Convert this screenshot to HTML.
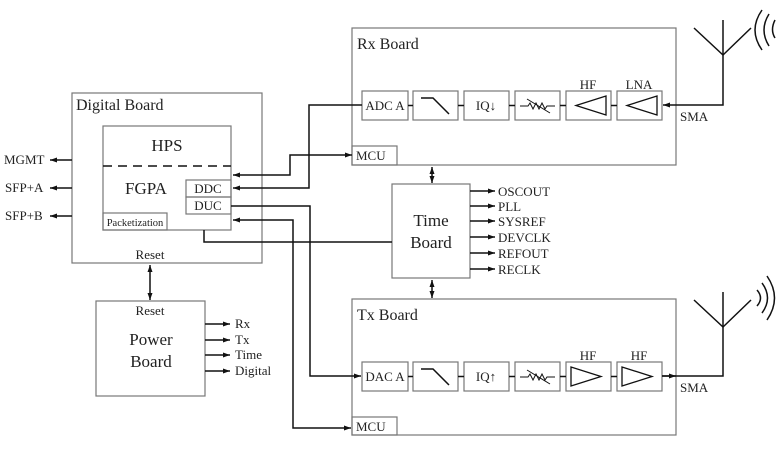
<!DOCTYPE html>
<html><head><style>
html,body{margin:0;padding:0;background:#fff}
svg{display:block}
text{font-family:"Liberation Serif",serif;fill:#222}
</style></head><body>
<svg width="782" height="454" viewBox="0 0 782 454" xmlns="http://www.w3.org/2000/svg">
<defs>
<marker id="a" markerWidth="8" markerHeight="6" refX="7" refY="3" orient="auto" markerUnits="userSpaceOnUse"><path d="M0,0.5 L7,3 L0,5.5z" fill="#111"/></marker>
<marker id="s" markerWidth="8" markerHeight="6" refX="1" refY="3" orient="auto" markerUnits="userSpaceOnUse"><path d="M8,0.5 L1,3 L8,5.5z" fill="#111"/></marker>
</defs>
<g fill="none" stroke="#777" stroke-width="1.2">
<rect x="72" y="93" width="190" height="170"/>
<rect x="103" y="126" width="128" height="104"/>
<rect x="186" y="180" width="45" height="17"/>
<rect x="186" y="197" width="45" height="17"/>
<rect x="103" y="213" width="64" height="17"/>
<rect x="352" y="28" width="324" height="137"/>
<rect x="352" y="146" width="45" height="19"/>
<rect x="352" y="299" width="324" height="136"/>
<rect x="352" y="417" width="45" height="18"/>
<rect x="392" y="184" width="78" height="94"/>
<rect x="96" y="301" width="109" height="95"/>
<rect x="362" y="91" width="46" height="29"/><rect x="413" y="91" width="45" height="29"/><rect x="464" y="91" width="45" height="29"/><rect x="515" y="91" width="45" height="29"/><rect x="566" y="91" width="45" height="29"/><rect x="617" y="91" width="45" height="29"/>
<rect x="362" y="362" width="46" height="29"/><rect x="413" y="362" width="45" height="29"/><rect x="464" y="362" width="45" height="29"/><rect x="515" y="362" width="45" height="29"/><rect x="566" y="362" width="45" height="29"/><rect x="617" y="362" width="45" height="29"/>
</g>
<g stroke="#111" stroke-width="1.5" fill="none">
<line x1="103" y1="166" x2="231" y2="166" stroke-dasharray="9,6"/>
<path d="M408,105.5h5M458,105.5h6M509,105.5h6M560,105.5h6M611,105.5h6"/>
<path d="M408,376.5h5M458,376.5h6M509,376.5h6M560,376.5h6M611,376.5h6"/>
<path d="M421,98h12l16,16"/><path d="M421,369h12l16,16"/>
<path d="M606,96v19l-30,-9.5z" stroke-width="1.3"/><path d="M657,96v19l-30,-9.5z" stroke-width="1.3"/>
<path d="M571,367v19l30,-9.5z" stroke-width="1.3"/><path d="M622,367v19l30,-9.5z" stroke-width="1.3"/>
<path d="M520,106h8l2,-3 3,6 3,-6 3,6 3,-6 3,6 2,-3h8M527,99l23,14" stroke-width="1"/>
<path d="M520,377h8l2,-3 3,6 3,-6 3,6 3,-6 3,6 2,-3h8M527,370l23,14" stroke-width="1"/>
<line x1="72" y1="160" x2="50" y2="160" marker-end="url(#a)"/>
<line x1="72" y1="188" x2="50" y2="188" marker-end="url(#a)"/>
<line x1="72" y1="216" x2="50" y2="216" marker-end="url(#a)"/>
<path d="M352,155H290V175H233" marker-start="url(#s)" marker-end="url(#a)"/>
<path d="M362,105H309V188H233" marker-end="url(#a)"/>
<path d="M231,206H310V376H361" marker-end="url(#a)"/>
<path d="M351,428H293V220H233" marker-start="url(#s)" marker-end="url(#a)"/>
<path d="M204,230V242H392"/>
<line x1="432" y1="167" x2="432" y2="183" marker-start="url(#s)" marker-end="url(#a)"/>
<line x1="432" y1="280" x2="432" y2="298" marker-start="url(#s)" marker-end="url(#a)"/>
<line x1="150" y1="265" x2="150" y2="300" marker-start="url(#s)" marker-end="url(#a)"/>
<line x1="470" y1="191" x2="495" y2="191" marker-end="url(#a)"/>
<line x1="470" y1="206" x2="495" y2="206" marker-end="url(#a)"/>
<line x1="470" y1="221" x2="495" y2="221" marker-end="url(#a)"/>
<line x1="470" y1="237" x2="495" y2="237" marker-end="url(#a)"/>
<line x1="470" y1="253" x2="495" y2="253" marker-end="url(#a)"/>
<line x1="470" y1="269" x2="495" y2="269" marker-end="url(#a)"/>
<line x1="205" y1="324" x2="230" y2="324" marker-end="url(#a)"/>
<line x1="205" y1="340" x2="230" y2="340" marker-end="url(#a)"/>
<line x1="205" y1="355" x2="230" y2="355" marker-end="url(#a)"/>
<line x1="205" y1="371" x2="230" y2="371" marker-end="url(#a)"/>
<path d="M723,20V105H663" marker-end="url(#a)"/>
<path d="M694,28L723,55L751,28"/>
<path d="M762,10Q748,30 762,50M769,14Q759,30 769,46M775,20Q770,30 775,38"/>
<path d="M662,376H723V292"/>
<line x1="662" y1="376" x2="676" y2="376" marker-end="url(#a)"/>
<path d="M694,300L723,327L751,300"/>
<path d="M757,290Q764,298 757,306M762,283Q773,298 762,313M767,276Q782,298 767,320"/>
</g>
<g font-size="16">
<text x="76" y="110">Digital Board</text>
<text x="357" y="49">Rx Board</text>
<text x="357" y="320">Tx Board</text>
</g>
<g font-size="17" text-anchor="middle">
<text x="167" y="151">HPS</text>
<text x="146" y="194">FGPA</text>
<text x="431" y="226">Time</text>
<text x="431" y="248">Board</text>
<text x="151" y="345">Power</text>
<text x="151" y="367">Board</text>
</g>
<g font-size="13">
<text x="208" y="193" text-anchor="middle">DDC</text>
<text x="208" y="210" text-anchor="middle">DUC</text>
<text x="135" y="226" text-anchor="middle" font-size="10.5">Packetization</text>
<text x="150" y="259" text-anchor="middle">Reset</text>
<text x="150" y="315" text-anchor="middle">Reset</text>
<text x="4" y="164">MGMT</text>
<text x="5" y="192">SFP+A</text>
<text x="5" y="220">SFP+B</text>
<text x="356" y="160">MCU</text>
<text x="356" y="431">MCU</text>
<text x="385" y="110" text-anchor="middle">ADC A</text>
<text x="385" y="381" text-anchor="middle">DAC A</text>
<text x="486" y="110" text-anchor="middle">IQ↓</text>
<text x="486" y="381" text-anchor="middle">IQ↑</text>
<text x="588" y="89" text-anchor="middle">HF</text>
<text x="639" y="89" text-anchor="middle">LNA</text>
<text x="588" y="360" text-anchor="middle">HF</text>
<text x="639" y="360" text-anchor="middle">HF</text>
<text x="680" y="121">SMA</text>
<text x="680" y="392">SMA</text>
<text x="498" y="196">OSCOUT</text>
<text x="498" y="211">PLL</text>
<text x="498" y="226">SYSREF</text>
<text x="498" y="242">DEVCLK</text>
<text x="498" y="258">REFOUT</text>
<text x="498" y="274">RECLK</text>
<text x="235" y="328">Rx</text>
<text x="235" y="344">Tx</text>
<text x="235" y="359">Time</text>
<text x="235" y="375">Digital</text>
</g>
</svg>
</body></html>
